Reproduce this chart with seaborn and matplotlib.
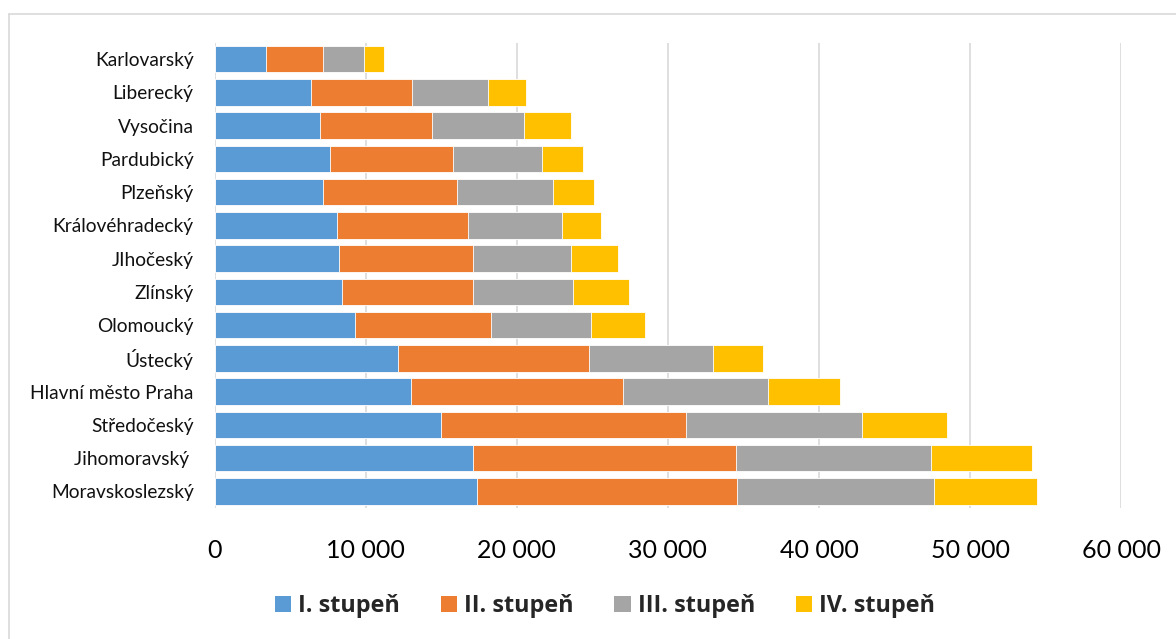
import matplotlib
matplotlib.use("Agg")
import matplotlib.pyplot as plt
from matplotlib.patches import Patch
from matplotlib.lines import Line2D
from matplotlib.ticker import FuncFormatter
import numpy as np
import pandas as pd
import seaborn as sns

kraje = ["Karlovarský", "Liberecký", "Vysočina", "Pardubický", "Plzeňský",
         "Královéhradecký", "JIhočeský", "Zlínský", "Olomoucký", "Ústecký",
         "Hlavní město Praha", "Středočeský", "Jihomoravský ", "Moravskoslezský"]
stupen_1 = [3420, 6400, 6990, 7650, 7190, 8120, 8250, 8430, 9290, 12130, 12990, 14990, 17100, 17400]
stupen_2 = [3770, 6670, 7410, 8150, 8860, 8680, 8850, 8670, 8980, 12670, 14010, 16210, 17400, 17200]
stupen_3 = [2690, 5030, 6100, 5900, 6350, 6200, 6500, 6600, 6630, 8200, 9600, 11650, 12900, 13000]
stupen_4 = [1320, 2500, 3100, 2700, 2700, 2600, 3100, 3700, 3600, 3300, 4800, 5650, 6700, 6800]
series_names = ["I. stupeň", "II. stupeň", "III. stupeň", "IV. stupeň"]
colors = ["#5B9BD5", "#ED7D31", "#A5A5A5", "#FFC000"]
x_ticks = [0, 10000, 20000, 30000, 40000, 50000, 60000]

sns.set_theme(style="white")
plt.rcParams["font.family"] = ["Lato", "DejaVu Sans"]

df = pd.DataFrame({"kraj": kraje, "s1": stupen_1, "s2": stupen_2, "s3": stupen_3, "s4": stupen_4})
cols = ["s1", "s2", "s3", "s4"]
cum = df[cols].cumsum(axis=1)
cum["kraj"] = df["kraj"]

fig = plt.figure(figsize=(11.76, 6.39), dpi=100)
ax = fig.add_axes([214.5 / 1176, 1 - 508 / 639, (1121.3 - 214.5) / 1176, (508 - 42.5) / 639])

for i in range(3, -1, -1):
    sns.barplot(data=cum, x=cols[i], y="kraj", order=kraje, orient="h",
                color=colors[i], saturation=1, width=0.8, ax=ax,
                edgecolor="white", linewidth=0.6, zorder=2)

ax.set_xlim(0, 60000)
ax.set_xticks(x_ticks)
ax.xaxis.set_major_formatter(FuncFormatter(lambda v, p: f"{int(v):,}".replace(",", " ")))
ax.grid(axis="x", color="#D9D9D9", linewidth=1.2, zorder=0)
ax.grid(axis="y", visible=False)
ax.set_axisbelow(True)
for s in ax.spines.values():
    s.set_visible(False)
ax.set_xlabel("")
ax.set_ylabel("")
ax.tick_params(axis="x", length=0, pad=22, labelsize=18, labelcolor="#000000")
ax.tick_params(axis="y", length=0, pad=15, labelsize=13.8, labelcolor="#111111")

handles = [Patch(facecolor=c, edgecolor="none", label=n) for c, n in zip(colors, series_names)]
fig.legend(handles=handles, loc="center", bbox_to_anchor=(605 / 1176, 1 - 606 / 639),
           ncol=4, frameon=False,
           prop={"family": ["Open Sans", "DejaVu Sans"], "weight": "bold", "size": 16.8},
           handlelength=0.7, handleheight=0.7, handletextpad=0.3, columnspacing=1.75)

fig.add_artist(Line2D([8.5 / 1176, 1.0], [1 - 13.5 / 639, 1 - 13.5 / 639], color="#D9D9D9", linewidth=1.2))
fig.add_artist(Line2D([8.5 / 1176, 8.5 / 1176], [0, 1 - 13.5 / 639], color="#D9D9D9", linewidth=1.2))

fig.savefig("out.png", dpi=100, facecolor="white")
